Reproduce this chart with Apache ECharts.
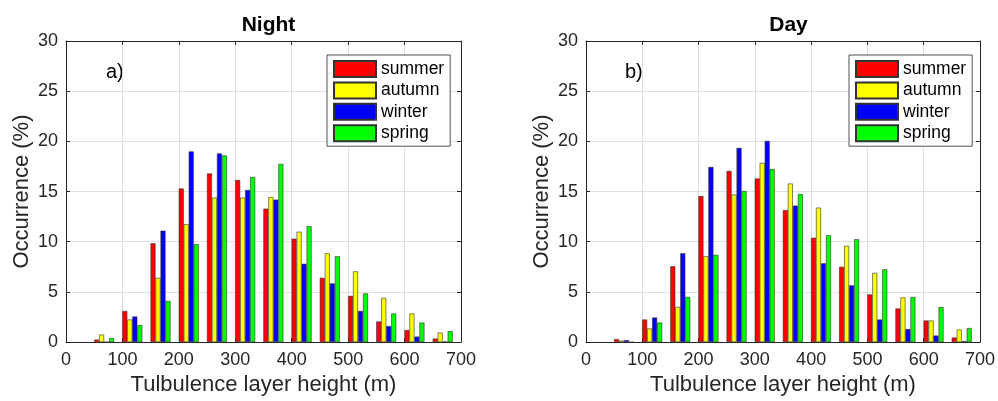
<!DOCTYPE html>
<html><head><meta charset="utf-8">
<script src="https://cdn.jsdelivr.net/npm/echarts@6/dist/echarts.min.js"></script>
<style>html,body{margin:0;padding:0;background:#fff}#c{width:998px;height:401px}</style>
</head><body><div id="c"></div>
<script>
const binCenters = [67.5,117.5,167.5,217.5,267.5,317.5,367.5,417.5,467.5,517.5,567.5,617.5,667.5];
const seasons = ['summer','autumn','winter','spring'];
const colors = ['#ff0000','#ffff00','#0000ff','#00ff00'];
// Night (a)
const nightSummer = [0.25,3.1,9.85,15.3,16.8,16.15,13.3,10.3,6.4,4.6,2.05,1.2,0.35];
const nightAutumn = [0.75,2.25,6.4,11.75,14.4,14.4,14.45,11.0,8.85,7.05,4.4,2.85,0.95];
const nightWinter = [0.0,2.55,11.1,19.0,18.8,15.15,14.2,7.8,5.85,3.1,1.6,0.55,0.05];
const nightSpring = [0.4,1.7,4.1,9.75,18.6,16.45,17.75,11.55,8.55,4.85,2.85,1.95,1.1];
// Day (b)
const daySummer = [0.3,2.25,7.55,14.55,17.05,16.3,13.15,10.4,7.5,4.75,3.35,2.15,0.45];
const dayAutumn = [0.15,1.35,3.5,8.55,14.7,17.85,15.8,13.4,9.6,6.9,4.45,2.15,1.25];
const dayWinter = [0.2,2.45,8.85,17.45,19.35,20.05,13.6,7.85,5.65,2.25,1.3,0.65,0.1];
const daySpring = [0.0,1.95,4.5,8.7,15.05,17.25,14.75,10.65,10.25,7.25,4.5,3.5,1.4];
const xTicks = {min:0,max:700,interval:100};
const yTicks = {min:0,max:30,interval:5};

const FONT = "'Liberation Sans', Arial, sans-serif";
const axisColor = '#262626';
const nightSets = [nightSummer,nightAutumn,nightWinter,nightSpring];
const daySets = [daySummer,dayAutumn,dayWinter,daySpring];

const grids = [
  {left:66, top:41, width:395, height:304},
  {left:586, top:41, width:395, height:304}
];
function xA(gi, top){
  return {type:'value', gridIndex:gi, position: top?'top':'bottom', min:xTicks.min, max:xTicks.max, interval:xTicks.interval,
    axisLine:{show:true,onZero:false,lineStyle:{color:axisColor,width:1}},
    axisTick:{show:true,inside:true,length:4,lineStyle:{color:axisColor}},
    axisLabel:{show:!top,color:axisColor,fontSize:18,fontFamily:FONT,margin:9},
    splitLine:{show:!top,lineStyle:{color:'#e0e0e0',width:1}},
    name: top?'':'Tulbulence layer height (m)', nameLocation:'middle', nameGap:31,
    nameTextStyle:{color:axisColor,fontSize:22,fontFamily:FONT}};
}
function yA(gi, right){
  return {type:'value', gridIndex:gi, position: right?'right':'left', min:yTicks.min, max:yTicks.max, interval:yTicks.interval,
    axisLine:{show:true,onZero:false,lineStyle:{color:axisColor,width:1}},
    axisTick:{show:true,inside:true,length:4,lineStyle:{color:axisColor}},
    axisLabel:{show:!right,color:axisColor,fontSize:18,fontFamily:FONT,margin:8},
    splitLine:{show:!right,lineStyle:{color:'#e0e0e0',width:1}},
    name: right?'':'Occurrence (%)', nameLocation:'middle', nameGap:33, nameRotate:90,
    nameTextStyle:{color:axisColor,fontSize:22,fontFamily:FONT}};
}
const series = [];
[nightSets, daySets].forEach((sets, gi) => {
  sets.forEach((vals, si) => {
    series.push({type:'bar', name:seasons[si], xAxisIndex:gi, yAxisIndex:gi,
      data: binCenters.map((x,i)=>[x, vals[i]]), barWidth:5, barGap:'0%',
      itemStyle:{color:colors[si], borderColor:'#333', borderWidth:0.6},
      emphasis:{disabled:true}, animation:false});
  });
});
function legend(left){
  return {data:seasons, orient:'vertical', left:left, top:55, icon:'rect', itemWidth:42, itemHeight:16, itemGap:3.4,
    padding:[5,6,4,6], borderColor:'#262626', borderWidth:0.8, backgroundColor:'#fff', selectedMode:false,
    textStyle:{fontSize:17.5, fontFamily:FONT, color:'#000'}};
}
const chart = echarts.init(document.getElementById('c'));
chart.setOption({
  animation:false,
  backgroundColor:'#fff',
  title:[
    {text:'Night', left:263.5, top:10, textAlign:'center', textStyle:{fontSize:21,fontWeight:'bold',fontFamily:FONT,color:'#000'}},
    {text:'Day', left:783.5, top:10, textAlign:'center', textStyle:{fontSize:21,fontWeight:'bold',fontFamily:FONT,color:'#000'}}
  ],
  grid:grids,
  xAxis:[xA(0,false), xA(1,false), xA(0,true), xA(1,true)],
  yAxis:[yA(0,false), yA(1,false), yA(0,true), yA(1,true)],
  legend:[legend(327), legend(849)],
  graphic:[
    {type:'text', left:106, top:62, style:{text:'a)', fontSize:20, fontFamily:FONT, fill:'#000'}},
    {type:'text', left:625, top:62, style:{text:'b)', fontSize:20, fontFamily:FONT, fill:'#000'}}
  ],
  series:series
});
</script></body></html>
